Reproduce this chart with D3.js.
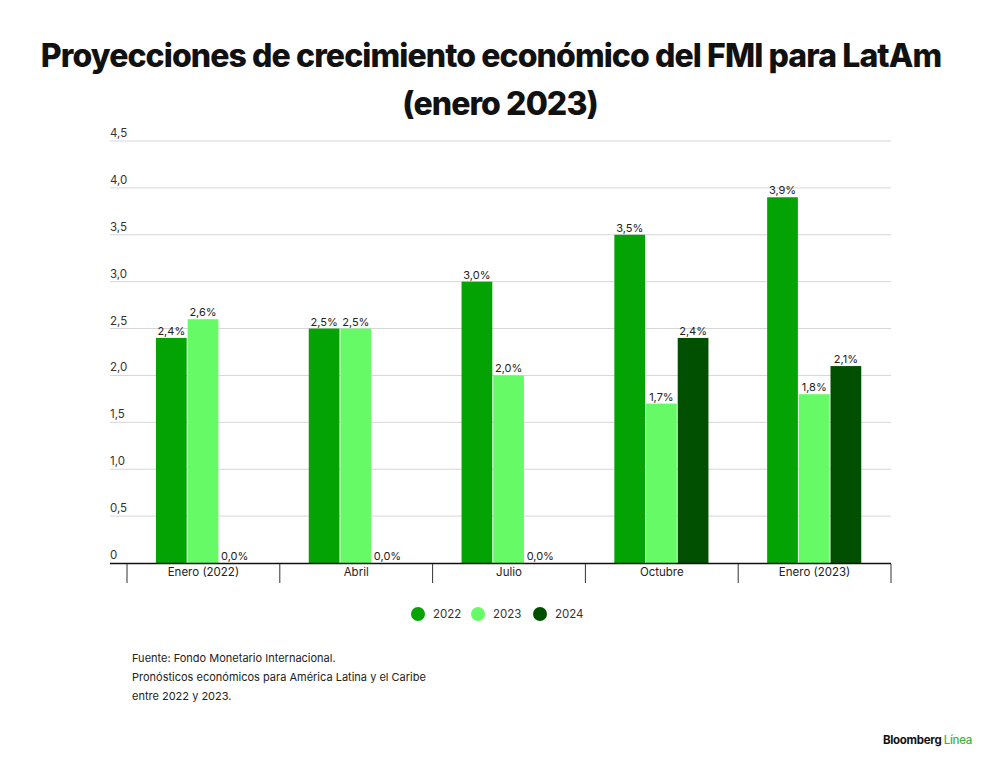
<!DOCTYPE html><html><head><meta charset="utf-8"><script src="https://cdn.jsdelivr.net/npm/d3@7"></script>
<style>body{margin:0;background:#fff}text{font-family:Inter,"Noto Sans",sans-serif}</style></head><body>
<svg id="c" width="1000" height="767"></svg>
<script>
const categories=["Enero (2022)","Abril","Julio","Octubre","Enero (2023)"];
const seriesNames=["2022","2023","2024"];
const v2022=[2.4,2.5,3.0,3.5,3.9];
const v2023=[2.6,2.5,2.0,1.7,1.8];
const v2024=[0,0,0,2.4,2.1];
const yTicks=[0,0.5,1,1.5,2,2.5,3,3.5,4,4.5];
const colors=["#04a304","#66fb66","#014f01"];
const series=[v2022,v2023,v2024];
const svg=d3.select("#c");
const fmt=d=>d===0?"0":d3.format(".1f")(d).replace(".",",");
const pct=d=>d3.format(".1f")(d).replace(".",",")+"%";

// title
svg.append("text").attr("x",491).attr("y",67).attr("text-anchor","middle").attr("font-size",32).attr("font-weight",800).attr("letter-spacing",-0.9).attr("fill","#111").text("Proyecciones de crecimiento económico del FMI para LatAm");
svg.append("text").attr("x",500).attr("y",115).attr("text-anchor","middle").attr("font-size",32).attr("font-weight",800).attr("letter-spacing",-0.9).attr("fill","#111").text("(enero 2023)");

const x=d3.scaleBand().domain(categories).range([127,891]).paddingInner(0).paddingOuter(0);
const xs=d3.scaleBand().domain(seriesNames).range([28,124]).padding(0.03);
const y=d3.scaleLinear().domain([0,4.5]).range([563,141]);

// grid
const g=svg.append("g");
g.selectAll("line.grid").data(yTicks.filter(d=>d>0)).join("line").attr("x1",110).attr("x2",891).attr("y1",d=>y(d)).attr("y2",d=>y(d)).attr("stroke","#d6d6d6");
g.selectAll("text.yl").data(yTicks).join("text").attr("x",110).attr("y",d=>y(d)-4).attr("font-size",11.5).attr("fill","#333").text(fmt);

// bars
categories.forEach((c,i)=>{
  series.forEach((s,j)=>{
    const v=s[i];
    const bx=x(c)+xs(seriesNames[j]);
    svg.append("rect").attr("x",bx).attr("width",xs.bandwidth()).attr("y",y(v)).attr("height",y(0)-y(v)).attr("fill",colors[j]);
    svg.append("text").attr("x",bx+xs.bandwidth()/2).attr("y",y(v)-3).attr("text-anchor","middle").attr("font-size",11).attr("fill","#222").text(pct(v));
  });
});

// axis
svg.append("line").attr("x1",110).attr("x2",891).attr("y1",563.5).attr("y2",563.5).attr("stroke","#111").attr("stroke-width",1.5);
const xAxis=d3.axisBottom(x).tickSize(0);
const ax=svg.append("g").attr("transform","translate(0,563)").call(xAxis);
ax.select(".domain").remove();
ax.selectAll("text").attr("font-size",11.5).attr("fill","#222").attr("dy","0.9em");
svg.selectAll("line.sep").data(d3.range(categories.length+1)).join("line").attr("x1",d=>127+d*x.bandwidth()).attr("x2",d=>127+d*x.bandwidth()).attr("y1",564).attr("y2",583).attr("stroke","#333");

// legend
const lx=[418,478,540];
seriesNames.forEach((n,j)=>{
  svg.append("circle").attr("cx",lx[j]).attr("cy",614).attr("r",7).attr("fill",colors[j]);
  svg.append("text").attr("x",lx[j]+15).attr("y",618).attr("font-size",11.5).attr("fill","#333").text(n);
});

// source
["Fuente: Fondo Monetario Internacional.","Pronósticos económicos para América Latina y el Caribe","entre 2022 y 2023."].forEach((t,i)=>{
  svg.append("text").attr("x",132).attr("y",662+i*19).attr("font-size",11).attr("fill","#222").text(t);
});
const b=svg.append("text").attr("x",972).attr("y",744).attr("text-anchor","end").attr("font-size",11.5).attr("font-weight",700).attr("letter-spacing",-0.3);
b.append("tspan").attr("fill","#111").text("Bloomberg ");
b.append("tspan").attr("fill","#3cb043").attr("font-weight",500).text("Línea");
</script></body></html>
